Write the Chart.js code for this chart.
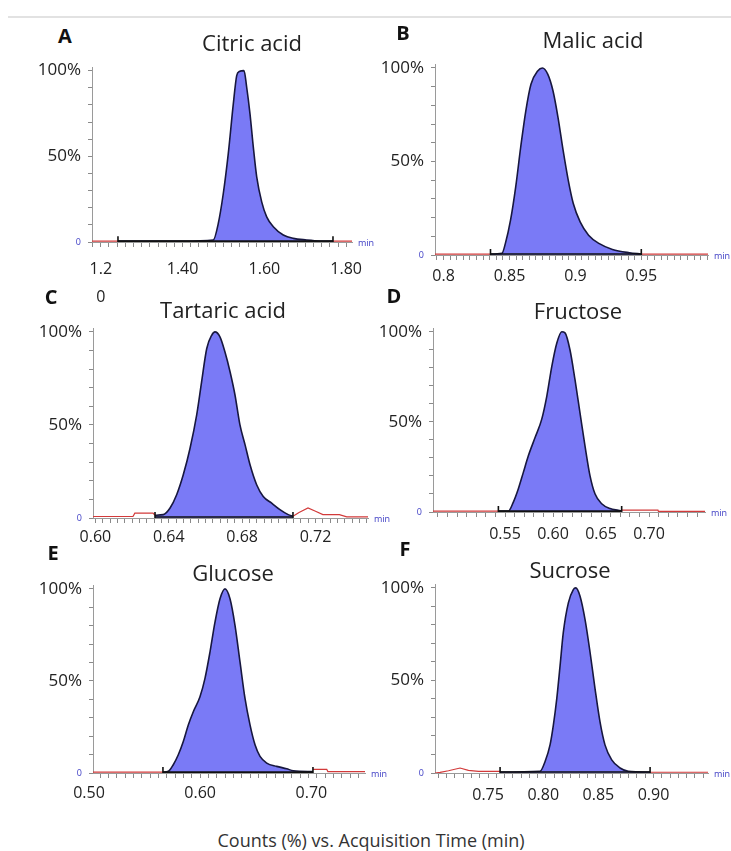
<!DOCTYPE html>
<html>
<head>
<meta charset="utf-8">
<script src="https://cdn.jsdelivr.net/npm/chart.js@4.4.1/dist/chart.umd.min.js"></script>
<style>
  html, body { margin:0; padding:0; background:#fff; }
  body { position:relative; width:731px; height:851px; overflow:hidden; font-family:"Open Sans", "Noto Sans", sans-serif; }
  .txt { position:absolute; transform:translate(-50%,-50%); line-height:1; white-space:nowrap; color:#222; }
  .title { font-size:22px; }
  .letter { font-size:20px; font-weight:700; color:#111; }
  .unit { position:absolute; font-size:9px; color:#3b3bc4; line-height:1; transform:translateY(-50%); }
  .caption { font-size:18px; color:#333; }
  .rule { position:absolute; left:8px; top:16px; width:723px; height:2px; background:#e2e2e2; }
  canvas { position:absolute; }
</style>
</head>
<body>
<div class="rule"></div>
<script>
// ---------------- DATA ----------------
// A — Citric acid
const citricTime   = [1.242, 1.40, 1.475, 1.4873, 1.4995, 1.5117, 1.524, 1.5323, 1.5386, 1.5501, 1.5567, 1.5648, 1.5729, 1.5812, 1.5934, 1.6056, 1.6218, 1.6462, 1.6707, 1.7034, 1.7359, 1.7677];
const citricCounts = [0.5, 0.6, 1.2, 10.9, 28.3, 51.6, 80.6, 97.1, 99.5, 100, 90.3, 74.8, 55.4, 38.0, 23.4, 14.7, 8.9, 4.1, 2.1, 1.2, 0.6, 0.5];
const citricBaseTime   = [1.1785, 1.242, 1.50, 1.7677, 1.8142];
const citricBaseCounts = [0.5, 0.5, null, 0.5, 0.5];
const citricIntegration = [1.242, 1.7677];
const citricRange = [1.1785, 1.8142];
const citricTicks = [1.2, 1.4, 1.6, 1.8];
const citricTickLabels = [['1.2', '0'], '1.40', '1.60', '1.80'];

// B — Malic acid
const malicTime   = [0.8356, 0.8443, 0.8469, 0.8508, 0.8547, 0.8585, 0.8624, 0.8663, 0.8714, 0.875, 0.8791, 0.883, 0.8868, 0.8907, 0.8946, 0.8984, 0.9036, 0.91, 0.9178, 0.9281, 0.941, 0.95];
const malicCounts = [0.5, 0.9, 6.2, 18.6, 36.3, 57.6, 77.1, 91.3, 98.4, 100, 96.6, 87.8, 73.6, 55.9, 39.9, 27.5, 17.7, 10.6, 6.2, 3.0, 1.2, 0.5];
const malicBaseTime   = [0.7935, 0.8356, 0.90, 0.95, 1.0006];
const malicBaseCounts = [0.5, 0.5, null, 0.5, 0.5];
const malicIntegration = [0.8356, 0.95];
const malicRange = [0.7935, 1.0006];
const malicTicks = [0.8, 0.85, 0.9, 0.95];
const malicTickLabels = ['0.8', '0.85', '0.9', '0.95'];

// C — Tartaric acid
const tartaricTime   = [0.6325, 0.637, 0.6407, 0.6443, 0.6479, 0.6516, 0.6552, 0.6579, 0.6607, 0.6634, 0.6652, 0.6679, 0.6706, 0.6734, 0.6761, 0.6788, 0.6816, 0.6843, 0.6879, 0.6915, 0.6961, 0.7006, 0.7051, 0.7077];
const tartaricCounts = [1.5, 1.8, 5.4, 12.5, 23.2, 37.5, 55.3, 73.2, 91.1, 98.2, 100, 97.3, 89.3, 78.6, 66.1, 50.0, 39.3, 28.6, 17.9, 11.6, 8.0, 4.5, 1.8, 0.9];
const tartaricBaseTime   = [0.5987, 0.6205, 0.6215, 0.6314, 0.6325, 0.67, 0.7077, 0.711, 0.7159, 0.72, 0.724, 0.733, 0.737, 0.7486];
const tartaricBaseCounts = [0.8, 0.8, 2.6, 2.6, 1.5, null, 1.0, 3.0, 5.4, 3.6, 1.8, 1.8, 0.6, 0.6];
const tartaricIntegration = [0.6325, 0.7077];
const tartaricRange = [0.5987, 0.7486];
const tartaricTicks = [0.60, 0.64, 0.68, 0.72];
const tartaricTickLabels = ['0.60', '0.64', '0.68', '0.72'];

// D — Fructose
const fructoseTime   = [0.5431, 0.5535, 0.5587, 0.5639, 0.5691, 0.5743, 0.5813, 0.5882, 0.5935, 0.5987, 0.6039, 0.6091, 0.6125, 0.6177, 0.6229, 0.6281, 0.6333, 0.6385, 0.6437, 0.6507, 0.6594, 0.668, 0.6715];
const fructoseCounts = [0.5, 0.5, 5.5, 12.9, 22.0, 31.2, 41.3, 51.4, 64.2, 80.7, 93.6, 100, 99.4, 89.9, 73.4, 55.0, 36.7, 20.2, 10.1, 4.6, 1.9, 0.9, 0.5];
const fructoseBaseTime   = [0.475, 0.5431, 0.60, 0.6715, 0.7093, 0.7098, 0.7583];
const fructoseBaseCounts = [0.5, 0.5, null, 1.0, 1.0, 0.4, 0.4];
const fructoseIntegration = [0.5431, 0.6715];
const fructoseRange = [0.475, 0.7583];
const fructoseTicks = [0.55, 0.60, 0.65, 0.70];
const fructoseTickLabels = ['0.55', '0.60', '0.65', '0.70'];

// E — Glucose
const glucoseTime   = [0.5665, 0.5713, 0.5758, 0.5803, 0.5848, 0.5893, 0.5938, 0.5998, 0.6043, 0.6088, 0.6133, 0.6178, 0.6223, 0.6268, 0.6313, 0.6358, 0.6403, 0.6448, 0.6493, 0.6538, 0.6598, 0.6688, 0.6778, 0.6837, 0.7014];
const glucoseCounts = [0.5, 0.9, 4.5, 9.9, 17.1, 26.1, 33.3, 41.4, 51.4, 65.7, 81.9, 94.6, 100, 94.6, 80.2, 60.3, 40.5, 26.1, 15.3, 9.0, 5.4, 3.6, 2.3, 1.2, 0.8];
const glucoseBaseTime   = [0.5036, 0.5665, 0.62, 0.7014, 0.7138, 0.7148, 0.7482];
const glucoseBaseCounts = [0.5, 0.5, null, 2.0, 2.0, 0.8, 0.8];
const glucoseIntegration = [0.5665, 0.7014];
const glucoseRange = [0.5036, 0.7482];
const glucoseTicks = [0.50, 0.60, 0.70];
const glucoseTickLabels = ['0.50', '0.60', '0.70'];

// F — Sucrose
const sucroseTime   = [0.7609, 0.7971, 0.8017, 0.8062, 0.8092, 0.8123, 0.8153, 0.8182, 0.8228, 0.8273, 0.8295, 0.8334, 0.8379, 0.8425, 0.847, 0.8515, 0.856, 0.8621, 0.8697, 0.8772, 0.8969];
const sucroseCounts = [0.5, 0.9, 6.2, 15.2, 25.9, 40.2, 58.0, 75.8, 91.9, 99.1, 100, 95.5, 83.0, 65.1, 45.5, 27.6, 15.2, 7.1, 2.7, 0.9, 0.5];
const sucroseBaseTime   = [0.7019, 0.7065, 0.7141, 0.7246, 0.7322, 0.7413, 0.7609, 0.83, 0.8969, 0.9494];
const sucroseBaseCounts = [0.0, 0.3, 1.2, 2.7, 1.4, 0.9, 0.9, null, 0.4, 0.4];
const sucroseIntegration = [0.7609, 0.8969];
const sucroseRange = [0.7019, 0.9494];
const sucroseTicks = [0.75, 0.80, 0.85, 0.90];
const sucroseTickLabels = ['0.75', '0.80', '0.85', '0.90'];

const panelLetters = ['A', 'B', 'C', 'D', 'E', 'F'];
const panelTitles  = ['Citric acid', 'Malic acid', 'Tartaric acid', 'Fructose', 'Glucose', 'Sucrose'];
const yLabelMap = { 0: '0', 50: '50%', 100: '100%' };
const captionText = 'Counts (%) vs. Acquisition Time (min)';

// ---------------- LAYOUT (positions / styles only) ----------------
const boxes = [
  { x0: 92,  x1: 352, yTop: 70,  yBase: 242, lab: 27, lh: 1.75, xh: 66, minor: 0.02,   letter: [65, 36],  title: [252, 42] },
  { x0: 435, x1: 708, yTop: 67,  yBase: 255, lab: 21, lh: 1.2,  xh: 40, minor: 0.005,  letter: [403, 33], title: [593, 39] },
  { x0: 93,  x1: 368, yTop: 331, yBase: 518, lab: 19, lh: 1.2,  xh: 40, minor: 0.004,  letter: [51, 297], title: [223, 309] },
  { x0: 433, x1: 705, yTop: 331, yBase: 512, lab: 22, lh: 1.2,  xh: 40, minor: 0.01,   letter: [394, 296], title: [578, 310] },
  { x0: 93,  x1: 365, yTop: 588, yBase: 773, lab: 20, lh: 1.2,  xh: 40, minor: 0.0075, letter: [53, 553], title: [233, 572] },
  { x0: 435, x1: 708, yTop: 587, yBase: 773, lab: 22, lh: 1.2,  xh: 40, minor: 0.0075, letter: [405, 549], title: [570, 569] }
];

const panelData = [
  [citricTime, citricCounts, citricBaseTime, citricBaseCounts, citricIntegration, citricRange, citricTicks, citricTickLabels],
  [malicTime, malicCounts, malicBaseTime, malicBaseCounts, malicIntegration, malicRange, malicTicks, malicTickLabels],
  [tartaricTime, tartaricCounts, tartaricBaseTime, tartaricBaseCounts, tartaricIntegration, tartaricRange, tartaricTicks, tartaricTickLabels],
  [fructoseTime, fructoseCounts, fructoseBaseTime, fructoseBaseCounts, fructoseIntegration, fructoseRange, fructoseTicks, fructoseTickLabels],
  [glucoseTime, glucoseCounts, glucoseBaseTime, glucoseBaseCounts, glucoseIntegration, glucoseRange, glucoseTicks, glucoseTickLabels],
  [sucroseTime, sucroseCounts, sucroseBaseTime, sucroseBaseCounts, sucroseIntegration, sucroseRange, sucroseTicks, sucroseTickLabels]
];

const FILL = 'rgba(122,122,246,1)';
const OUTLINE = '#17173f';
const RED = '#d23a3a';
const AXIS = '#9a9a9a';
const FONT = '"Open Sans", "Noto Sans", sans-serif';

function addText(cls, text, x, y) {
  const d = document.createElement('div');
  d.className = 'txt ' + cls;
  d.textContent = text;
  d.style.left = x + 'px';
  d.style.top = y + 'px';
  document.body.appendChild(d);
  return d;
}

const zip = (xs, ys) => xs.map((x, i) => ({ x: x, y: ys[i] }));

const YW = 62, PT = 16, PR = 36, XH1 = 6, PB = 2;
const YMAX = 102;

panelData.forEach((pd, i) => {
  const [time, counts, bTime, bCounts, integ, range, ticks, tickLabels] = pd;
  const L = boxes[i];
  const XH2 = L.xh;
  const ppu = (L.yBase - L.yTop) / 100;
  const chartTop = L.yTop - (YMAX - 100) * ppu;
  const top = Math.floor(chartTop) - PT;
  const padTop = chartTop - top;
  const w = YW + (L.x1 - L.x0) + PR;
  const h = Math.ceil(padTop + (L.yBase - chartTop) + XH1 + XH2 + PB);
  const cv = document.createElement('canvas');
  cv.width = w; cv.height = h;
  cv.style.left = (L.x0 - YW) + 'px';
  cv.style.top = top + 'px';
  cv.style.width = w + 'px';
  cv.style.height = h + 'px';
  document.body.appendChild(cv);

  const labelPad = L.lab - XH1 - (16 * L.lh) / 2;
  const tickLabelFor = v => {
    const k = ticks.findIndex(t => Math.abs(t - v) < 1e-9);
    return k >= 0 ? tickLabels[k] : '';
  };

  new Chart(cv, {
    type: 'line',
    data: {
      datasets: [
        {
          data: zip(time, counts),
          borderColor: OUTLINE, borderWidth: 1.6,
          backgroundColor: FILL, fill: 'origin',
          pointRadius: 0, cubicInterpolationMode: 'monotone', order: 3
        },
        {
          data: zip(bTime, bCounts),
          borderColor: RED, borderWidth: 1.2, fill: false,
          pointRadius: 0, spanGaps: false, tension: 0, order: 2
        },
        {
          data: zip(integ, [0.5, 0.5]),
          borderColor: '#111', borderWidth: 1.6, fill: false,
          pointStyle: 'line', pointRotation: 90, pointRadius: 5,
          pointBorderColor: '#111', pointBorderWidth: 1.6, tension: 0, order: 1
        }
      ]
    },
    options: {
      responsive: false,
      animation: false,
      devicePixelRatio: 1,
      events: [],
      layout: { padding: { top: padTop, right: PR, bottom: PB, left: 0 } },
      plugins: { legend: { display: false }, tooltip: { enabled: false } },
      scales: {
        x: {
          type: 'linear', position: 'bottom', min: range[0], max: range[1], weight: 0,
          border: { display: true, color: AXIS, width: 1 },
          grid: { display: true, drawOnChartArea: false, drawTicks: true, tickLength: 5, color: '#8a8a8a', lineWidth: 1 },
          ticks: { display: false },
          afterBuildTicks: s => {
            const out = [];
            const st = L.minor;
            for (let k = Math.ceil(range[0] / st - 1e-9); k * st <= range[1] + 1e-9; k++) out.push({ value: k * st });
            s.ticks = out;
          },
          afterFit: s => { s.height = XH1; }
        },
        xl: {
          type: 'linear', position: 'bottom', min: range[0], max: range[1], weight: 1,
          border: { display: false },
          grid: { display: false, drawTicks: false },
          ticks: {
            autoSkip: false, maxRotation: 0, padding: labelPad,
            color: '#222',
            font: { family: FONT, size: 16, lineHeight: L.lh },
            callback: v => tickLabelFor(v)
          },
          afterBuildTicks: s => { s.ticks = ticks.map(v => ({ value: v })); },
          afterFit: s => { s.height = XH2; }
        },
        y: {
          type: 'linear', min: 0, max: YMAX,
          border: { display: true, color: AXIS, width: 1 },
          grid: { display: true, drawOnChartArea: false, drawTicks: true, tickLength: 4, color: '#8a8a8a' },
          ticks: {
            autoSkip: false, padding: 7,
            color: c => (c.tick && c.tick.value === 0) ? '#3b3bc4' : '#222',
            font: c => (c.tick && c.tick.value === 0) ? { family: FONT, size: 9 } : { family: FONT, size: 17 },
            callback: v => (yLabelMap[v] !== undefined ? yLabelMap[v] : '')
          },
          afterBuildTicks: s => {
            const out = [];
            for (let k = 0; k <= 10; k++) out.push({ value: k * 10 });
            s.ticks = out;
          },
          afterFit: s => { s.width = YW; }
        }
      }
    }
  });

  addText('letter', panelLetters[i], L.letter[0], L.letter[1]);
  addText('title', panelTitles[i], L.title[0], L.title[1]);
  const u = document.createElement('div');
  u.className = 'unit';
  u.textContent = 'min';
  u.style.left = (L.x1 + 6) + 'px';
  u.style.top = L.yBase + 'px';
  document.body.appendChild(u);
});

addText('caption', captionText, 371, 840);
</script>
</body>
</html>
